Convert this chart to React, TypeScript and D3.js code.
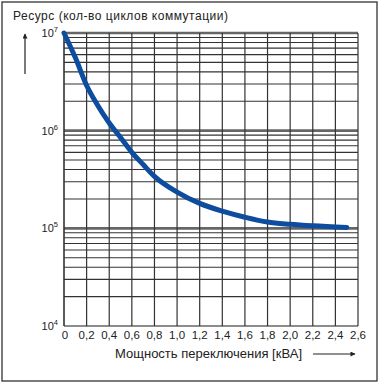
import React from "react";
import * as d3 from "d3";

const xValues = [0, 0.1, 0.2, 0.3, 0.4, 0.5, 0.6, 0.7, 0.8, 1.0, 1.2, 1.4, 1.6, 1.8, 2.0, 2.2, 2.5];
const yValues = [1e7, 5.6e6, 2.9e6, 1.8e6, 1.2e6, 8.5e5, 6.0e5, 4.5e5, 3.4e5, 2.35e5, 1.8e5, 1.5e5, 1.3e5, 1.16e5, 1.1e5, 1.06e5, 1.02e5];
const xTicks = [0, 0.2, 0.4, 0.6, 0.8, 1.0, 1.2, 1.4, 1.6, 1.8, 2.0, 2.2, 2.4, 2.6];
const yDecades = [4, 5, 6, 7];
const titleY = "Ресурс (кол-во циклов коммутации)";
const titleX = "Мощность переключения [кВА]";

const W = 379, H = 383;
const FONT = "'Liberation Sans', Arial, Helvetica, sans-serif";

export default function App() {
  const x = d3.scaleLinear().domain([0, 2.6]).range([64, 358]);
  const y = d3.scaleLog().domain([1e4, 1e7]).range([326, 33]);

  const minor: number[] = [];
  for (let d = 4; d < 7; d++) {
    for (let m = 2; m <= 9; m++) minor.push(m * Math.pow(10, d));
  }

  const pts = xValues.map((v, i) => [v, yValues[i]] as [number, number]);
  const line = d3
    .line<[number, number]>()
    .x((d) => x(d[0]))
    .y((d) => y(d[1]))
    .curve(d3.curveMonotoneX);

  const fmt = (v: number) => (v === 0 ? "0" : v.toFixed(1).replace(".", ","));

  return (
    <svg
      width={W}
      height={H}
      style={{ position: "absolute", left: 0, top: 0, background: "#fff" }}
      fontFamily={FONT}
    >
      <defs>
        <marker id="ah" viewBox="0 0 10 10" refX="9" refY="5" markerWidth="8" markerHeight="5" orient="auto" markerUnits="userSpaceOnUse">
          <path d="M0,0 L10,5 L0,10 z" fill="#222" />
        </marker>
        <marker id="ahv" viewBox="0 0 10 10" refX="9" refY="5" markerWidth="8" markerHeight="5" orient="auto" markerUnits="userSpaceOnUse">
          <path d="M0,0 L10,5 L0,10 z" fill="#222" />
        </marker>
      </defs>
      <rect x={2} y={2} width={375} height={379} fill="#fff" stroke="#333" strokeWidth={1.3} />

      <text x={13} y={20} fontSize={12} fill="#222" textLength={215} lengthAdjust="spacing">{titleY}</text>
      <line x1={25} y1={74} x2={25} y2={34} stroke="#222" strokeWidth={1.2} markerEnd="url(#ahv)" />

      {/* minor horizontal grid */}
      {minor.map((v) => (
        <line key={"m" + v} x1={x(0)} x2={x(2.6)} y1={y(v)} y2={y(v)} stroke="#333" strokeWidth={1.1} />
      ))}
      {/* decade lines */}
      {yDecades.map((d) => (
        <line key={"d" + d} x1={x(0)} x2={x(2.6)} y1={y(Math.pow(10, d))} y2={y(Math.pow(10, d))} stroke="#666" strokeWidth={d === 4 ? 1.4 : 2.6} />
      ))}
      {/* vertical grid */}
      {xTicks.map((t) => (
        <line key={"v" + t} x1={x(t)} x2={x(t)} y1={y(1e7)} y2={y(1e4)} stroke="#333" strokeWidth={t === 0 ? 1.6 : 1.2} />
      ))}

      {/* y tick labels */}
      {yDecades.map((d) => (
        <text key={"yl" + d} x={58} y={y(Math.pow(10, d)) + 4} textAnchor="end" fontSize={11} fill="#222">
          10<tspan fontSize={7.5} dy={-5}>{d}</tspan>
        </text>
      ))}

      {/* x tick labels */}
      {xTicks.map((t) => (
        <text key={"xl" + t} x={x(t) + (t === 0 ? 1 : 0)} y={339} textAnchor="middle" fontSize={11.5} fill="#222">
          {fmt(t)}
        </text>
      ))}

      <text x={115} y={358} fontSize={13} fill="#222" textLength={187} lengthAdjust="spacing">{titleX}</text>
      <line x1={313} y1={354} x2={355} y2={354} stroke="#222" strokeWidth={1.2} markerEnd="url(#ah)" />

      <path d={line(pts) || ""} fill="none" stroke="#0d4c9f" strokeWidth={5} strokeLinecap="round" />
    </svg>
  );
}
